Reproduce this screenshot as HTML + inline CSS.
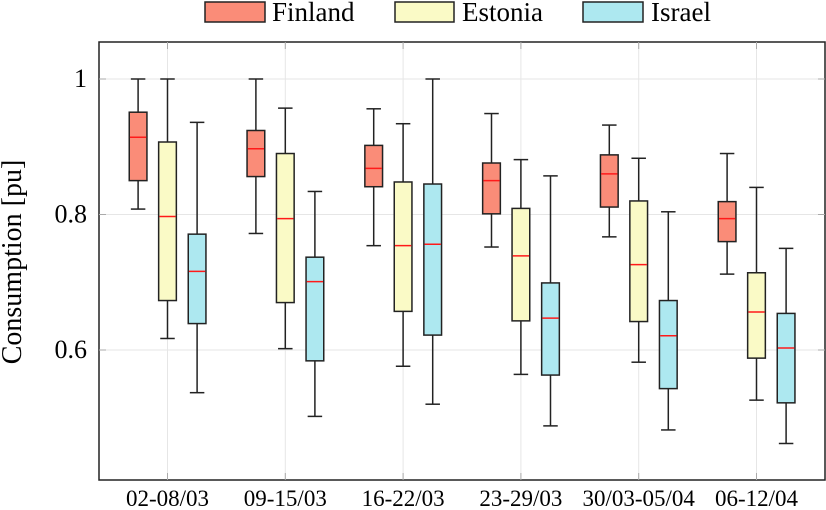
<!DOCTYPE html>
<html><head><meta charset="utf-8"><style>
body{margin:0;background:#fff;}
svg{display:block;font-family:"Liberation Serif",serif;}
</style></head><body>
<svg id="chart" width="826" height="510">
<g id="legend">
<g><rect x="205" y="2" width="60" height="20" fill="#fa8c78" stroke="#222" stroke-width="1.5"/><text x="272" y="21" font-size="27">Finland</text></g>
<g><rect x="395" y="2" width="59" height="20" fill="#fafac6" stroke="#222" stroke-width="1.5"/><text x="462" y="21" font-size="27">Estonia</text></g>
<g><rect x="583" y="2" width="60" height="20" fill="#ade8f0" stroke="#222" stroke-width="1.5"/><text x="651" y="21" font-size="27">Israel</text></g>
</g>
<g id="grid"></g>
<g id="boxes"></g>
<rect x="99" y="42" width="726" height="438" fill="none" stroke="#222" stroke-width="1.5"/>
<g id="axes"></g>
<text transform="translate(21,262) rotate(-90)" text-anchor="middle" font-size="28">Consumption [pu]</text>
</svg>
<script>
const categories=["02-08/03","09-15/03","16-22/03","23-29/03","30/03-05/04","06-12/04"];
const seriesNames=["Finland","Estonia","Israel"];
const yTicks=[0.6,0.8,1];
const yTickLabels=["0.6","0.8","1"];
// each box: [lowWhisker, q1, median, q3, highWhisker]
const finland=[[0.808,0.850,0.914,0.951,1.0],[0.772,0.856,0.897,0.924,1.0],[0.754,0.841,0.868,0.902,0.956],[0.752,0.801,0.850,0.876,0.949],[0.767,0.811,0.860,0.888,0.932],[0.712,0.760,0.794,0.819,0.890]];
const estonia=[[0.617,0.673,0.797,0.907,1.0],[0.602,0.670,0.794,0.890,0.957],[0.576,0.657,0.754,0.848,0.934],[0.564,0.643,0.739,0.809,0.881],[0.582,0.642,0.726,0.820,0.883],[0.526,0.588,0.656,0.714,0.840]];
const israel=[[0.537,0.639,0.716,0.771,0.936],[0.502,0.584,0.701,0.737,0.834],[0.520,0.622,0.756,0.845,1.0],[0.488,0.563,0.647,0.699,0.857],[0.482,0.543,0.621,0.673,0.804],[0.462,0.522,0.603,0.654,0.750]];
const series=[finland,estonia,israel];
const colors=["#fa8c78","#fafac6","#ade8f0"];
const NS="http://www.w3.org/2000/svg";
const X0=99,X1=825,Y0=42,Y1=480;
function y(v){return 214.5-(v-0.8)*677.5;}
function x(i){return 167.5+i*117.8;}
const offs=[-29.4,0,29.6],bw=17.7,cw=14.5;
function mk(tag,attrs,parent){const e=document.createElementNS(NS,tag);for(const k in attrs)e.setAttribute(k,attrs[k]);parent.appendChild(e);return e;}
const grid=document.getElementById('grid'),axes=document.getElementById('axes'),boxes=document.getElementById('boxes');
yTicks.forEach((t,i)=>{
 const l=mk('line',{x1:X0,x2:X1,y1:y(t),y2:y(t),stroke:'#e6e6e6','stroke-width':1},grid);
 
 
 [[X0,X0+7],[X1-7,X1]].forEach(p=>{const tk=mk('line',{x1:p[0],x2:p[1],y1:y(t),y2:y(t),stroke:'#aaa','stroke-width':1},axes);
 
 });
 const tx=mk('text',{x:87,y:y(t)+8,'text-anchor':'end','font-size':'26'},axes);tx.textContent=yTickLabels[i];
 
 
});
categories.forEach((c,i)=>{
 const l=mk('line',{x1:x(i),x2:x(i),y1:Y0,y2:Y1,stroke:'#e6e6e6','stroke-width':1},grid);
 
 
 [[Y0,Y0+7],[Y1-7,Y1]].forEach(p=>{const tk=mk('line',{x1:x(i),x2:x(i),y1:p[0],y2:p[1],stroke:'#aaa','stroke-width':1},axes);
 
 });
 const tx=mk('text',{x:x(i),y:506,'text-anchor':'middle','font-size':'23'},axes);tx.textContent=c;
 
 
 series.forEach((s,k)=>{
  const d=s[i],cx=x(i)+offs[k];
  const g=mk('g',{},boxes);
  
  
  const st={stroke:'#222','stroke-width':1.5};
  mk('line',Object.assign({x1:cx,x2:cx,y1:y(d[4]),y2:y(d[0])},st),g);
  mk('line',Object.assign({x1:cx-cw/2,x2:cx+cw/2,y1:y(d[4]),y2:y(d[4])},st),g);
  mk('line',Object.assign({x1:cx-cw/2,x2:cx+cw/2,y1:y(d[0]),y2:y(d[0])},st),g);
  mk('rect',Object.assign({x:cx-bw/2,y:y(d[3]),width:bw,height:y(d[1])-y(d[3]),fill:colors[k]},st),g);
  mk('line',{x1:cx-bw/2+0.7,x2:cx+bw/2-0.7,y1:y(d[2]),y2:y(d[2]),stroke:'#ff1a1a','stroke-width':1.5},g);
 });
});
</script>
</body></html>
